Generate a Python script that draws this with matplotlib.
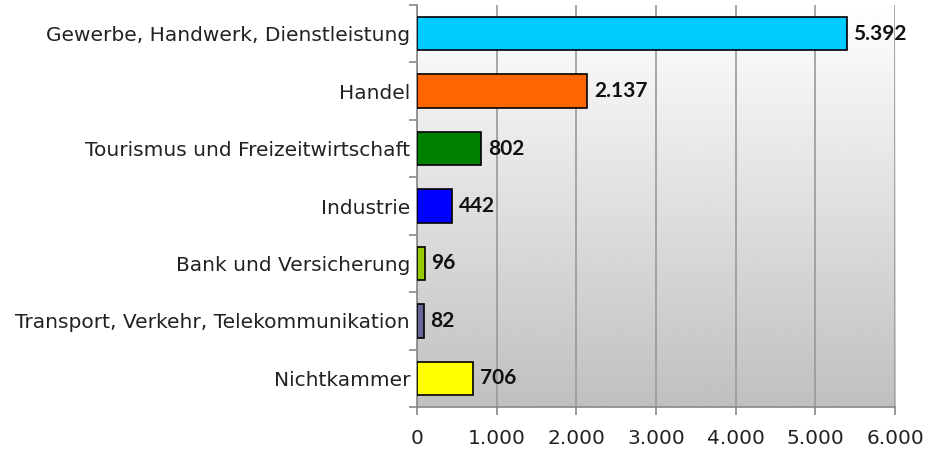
import numpy as np
import matplotlib.pyplot as plt

kategorien = ['Gewerbe, Handwerk, Dienstleistung', 'Handel', 'Tourismus und Freizeitwirtschaft',
              'Industrie', 'Bank und Versicherung', 'Transport, Verkehr, Telekommunikation',
              'Nichtkammer']
werte = [5392, 2137, 802, 442, 96, 82, 706]
farben = ['#00CCFF', '#FF6600', '#008000', '#0000FF', '#99CC00', '#666699', '#FFFF00']
xticks = [0, 1000, 2000, 3000, 4000, 5000, 6000]


def fmt(v):
    return f'{v:,}'.replace(',', '.')


fig = plt.figure(figsize=(9.46, 4.53), dpi=100)
ax = fig.add_axes([0.4408, 0.1015, 0.5053, 0.8875])

# Hintergrund mit Verlauf (oben weiss, unten grau)
grad = np.linspace(1.0, 0.75, 256).reshape(-1, 1)
ax.imshow(grad, cmap='gray', vmin=0, vmax=1, aspect='auto',
          extent=[0, 6000, len(kategorien) - 0.5, -0.5], zorder=0)

y = np.arange(len(kategorien))
ax.barh(y, werte, height=0.58, color=farben, edgecolor='black', linewidth=1.2, zorder=3)

# Werte neben den Balken
for yi, v in zip(y, werte):
    ax.annotate(fmt(v), (v, yi), xytext=(5, 0), textcoords='offset points',
                va='center', ha='left', fontsize=15, fontweight='bold',
                family='Lato', color='#111111', zorder=4)

ax.set_xlim(0, 6000)
ax.set_ylim(len(kategorien) - 0.5, -0.5)
ax.set_xticks(xticks)
ax.set_xticklabels([fmt(t) for t in xticks], fontsize=14.5, family='DejaVu Sans', color='#222222')
ax.set_yticks(y)
ax.set_yticklabels(kategorien, fontsize=14.5, family='DejaVu Sans', color='#222222')
ax.set_yticks(np.arange(-0.5, len(kategorien), 1), minor=True)
ax.tick_params(axis='y', which='major', length=0, pad=5)
ax.tick_params(axis='y', which='minor', length=6, color='#888888', width=1.2)
ax.tick_params(axis='x', length=6, color='#888888', width=1.2, pad=10)

ax.grid(axis='x', color='#999999', linewidth=1.2, zorder=1)
ax.set_axisbelow(True)
for s in ['top', 'right']:
    ax.spines[s].set_visible(False)
for s in ['left', 'bottom']:
    ax.spines[s].set_color('#888888')
    ax.spines[s].set_linewidth(1.2)

fig.savefig('out.png', dpi=100)
